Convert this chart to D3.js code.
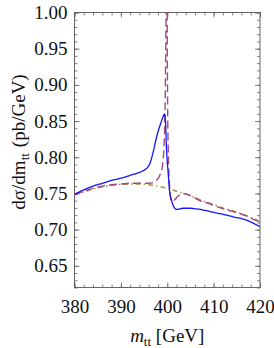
<!DOCTYPE html>
<html>
<head>
<meta charset="utf-8">
<script src="https://cdn.jsdelivr.net/npm/d3@7"></script>
<style>
  body { margin: 0; background: #fff; }
  svg { display: block; font-family: "Liberation Serif", "DejaVu Serif", serif; }
</style>
</head>
<body>
<svg></svg>
<script>
let svgWidth = 274
let svgHeight = 348

let margin = { left: 74.5, right: 14, top: 12.5, bottom: 60.5 }

// tick labels
let xTicks = [380, 390, 400, 410, 420]
let yTicks = [0.65, 0.70, 0.75, 0.80, 0.85, 0.90, 0.95, 1.00]

// full result (solid blue)
let fullM = [380, 382, 384, 386, 388, 390, 392, 394, 395, 396, 396.3, 397, 397.7, 398.6, 399.1, 399.4, 399.6, 399.85,
  400.2, 400.55, 400.9, 401.3, 402.0, 403.4, 405, 406.3, 407.8, 409.2, 411, 412.8, 414.6, 416.4, 418.2, 420]
let fullS = [0.749, 0.755, 0.760, 0.764, 0.768, 0.771, 0.775, 0.779, 0.782, 0.788, 0.792, 0.808, 0.828, 0.847, 0.856, 0.860, 0.852, 0.810,
  0.778, 0.751, 0.741, 0.733, 0.728, 0.7295, 0.7295, 0.7285, 0.727, 0.725, 0.7225, 0.720, 0.717, 0.7145, 0.710, 0.704]

// fixed-order with pole (dashed), null = break at the pole
let poleM = [380, 382, 384, 386, 388, 390, 392, 394, 396, 397, 397.7, 398.4, 399.0, 399.4, 399.6, 399.8, null,
  399.95, 400.05, 400.25, 400.6, 400.9, 401.4, 402.3, 403.4, 405, 407, 409, 411, 413, 415, 417, 419, 420]
let poleS = [0.748, 0.753, 0.757, 0.760, 0.762, 0.763, 0.764, 0.764, 0.764, 0.765, 0.768, 0.775, 0.790, 0.830, 0.900, 1.050, null,
  1.050, 0.900, 0.800, 0.752, 0.739, 0.740, 0.746, 0.750, 0.747, 0.740, 0.736, 0.731, 0.727, 0.7235, 0.719, 0.713, 0.711]

// continuum (dash-dot)
let contM = [380, 382, 384, 386, 388, 390, 392, 394, 396, 398, 400, 402, 404, 406, 408, 410, 412, 414, 416, 418, 420]
let contS = [0.748, 0.752, 0.756, 0.759, 0.761, 0.7625, 0.763, 0.763, 0.762, 0.760, 0.757, 0.753, 0.749, 0.744, 0.739, 0.735, 0.730, 0.726, 0.722, 0.717, 0.711]

let svg = d3.select('svg').attr('width', svgWidth).attr('height', svgHeight)

let x0 = margin.left, x1 = svgWidth - margin.right
let y0 = svgHeight - margin.bottom, y1 = margin.top

let xScale = d3.scaleLinear().domain([380, 420]).range([x0, x1])
let yScale = d3.scaleLinear().domain([0.62, 1.00]).range([y0, y1])

svg.append('defs').append('clipPath').attr('id', 'plotclip')
  .append('rect')
  .attr('x', x0).attr('y', y1)
  .attr('width', x1 - x0).attr('height', y0 - y1)

// minor tick values
let xMinor = d3.range(380, 420.01, 2)
let yMinor = d3.range(62, 100.5, 1).map(function(v) { return v / 100 })

function frameAxis(axisFn, scale, ticks, minor, translate, showLabels) {
  let g = svg.append('g').attr('transform', translate)
  g.call(axisFn(scale).tickValues(minor).tickSize(-3).tickFormat(''))
    .select('.domain').remove()
  let major = svg.append('g').attr('transform', translate)
  major.call(axisFn(scale).tickValues(ticks).tickSize(-5).tickPadding(7)
    .tickFormat(showLabels ? showLabels : ''))
  major.select('.domain').remove()
  return major
}

let xFmt = d3.format('d')
let yFmt = d3.format('.2f')

let bottomAx = frameAxis(d3.axisBottom, xScale, xTicks, xMinor, 'translate(0,' + y0 + ')', xFmt)
frameAxis(d3.axisTop, xScale, xTicks, xMinor, 'translate(0,' + y1 + ')', null)
let leftAx = frameAxis(d3.axisLeft, yScale, yTicks, yMinor, 'translate(' + x0 + ',0)', yFmt)
frameAxis(d3.axisRight, yScale, yTicks, yMinor, 'translate(' + x1 + ',0)', null)

svg.selectAll('.tick line').attr('stroke', '#666').attr('stroke-width', 0.8)
svg.selectAll('.tick text').attr('fill', '#111').style('font-size', '19px')
  .style('font-family', '"Liberation Serif", serif')
bottomAx.selectAll('.tick text').attr('dy', '0.95em')

svg.append('rect')
  .attr('x', x0).attr('y', y1)
  .attr('width', x1 - x0).attr('height', y0 - y1)
  .attr('fill', 'none').attr('stroke', '#555').attr('stroke-width', 0.9)

function series(ms, ss) {
  return ms.map(function(m, i) { return { m: m, s: ss[i] } })
}

let line = d3.line()
  .defined(function(d) { return d.m !== null })
  .x(function(d) { return xScale(d.m) })
  .y(function(d) { return yScale(d.s) })
  .curve(d3.curveMonotoneX)

let plot = svg.append('g').attr('clip-path', 'url(#plotclip)')

plot.append('path').datum(series(contM, contS))
  .attr('d', line).attr('fill', 'none')
  .attr('stroke', '#a89048').attr('stroke-width', 1.4)
  .attr('stroke-dasharray', '5,3,1.5,3')

plot.append('path').datum(series(poleM, poleS))
  .attr('d', line).attr('fill', 'none')
  .attr('stroke', '#a24a80').attr('stroke-width', 1.4)
  .attr('stroke-dasharray', '8,4')

plot.append('path').datum(series(fullM, fullS))
  .attr('d', line).attr('fill', 'none')
  .attr('stroke', '#1515ff').attr('stroke-width', 1.3)

// axis labels
let xLabel = svg.append('text')
  .attr('x', (x0 + x1) / 2).attr('y', 342)
  .attr('text-anchor', 'middle')
  .style('font-size', '19px').attr('fill', '#111')
xLabel.append('tspan').style('font-style', 'italic').text('m')
xLabel.append('tspan').attr('dy', 4).style('font-size', '13px').text('tt')
xLabel.append('tspan').attr('dy', -4).text(' [GeV]')

let yLabel = svg.append('text')
  .attr('transform', 'translate(25,142) rotate(-90)')
  .attr('text-anchor', 'middle')
  .style('font-size', '19px').attr('fill', '#111')
yLabel.append('tspan').text('d\u03c3/dm')
yLabel.append('tspan').attr('dy', 4).style('font-size', '13px').text('tt')
yLabel.append('tspan').attr('dy', -4).attr('dx', 6).text('(pb/GeV)')
</script>
</body>
</html>
